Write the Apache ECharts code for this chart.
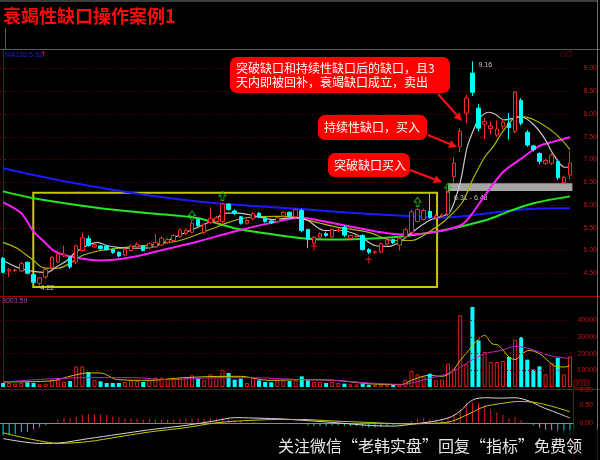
<!DOCTYPE html>
<html>
<head>
<meta charset="utf-8">
<script src="https://cdn.jsdelivr.net/npm/echarts@6/dist/echarts.min.js"></script>
<style>
  html, body { margin: 0; padding: 0; background: #000; }
  #chart { width: 600px; height: 460px; }
</style>
</head>
<body>
<div id="chart"></div>
<script>
// ---- daily prices (open / close / low / high) ----
const openP = [4.83,4.55,4.56,4.55,4.74,4.47,4.28,4.42,4.62,4.75,4.88,4.85,4.75,5.00,5.26,5.08,5.10,5.10,5.02,4.96,
  4.90,5.00,5.08,5.10,5.06,5.08,5.12,5.18,5.22,5.31,5.38,5.40,5.68,5.40,5.62,5.64,5.64,6.02,5.87,5.74,
  5.60,5.70,5.82,5.72,5.65,5.63,5.76,5.84,5.74,5.88,5.46,5.16,5.29,5.37,5.30,5.44,5.51,5.27,5.31,5.33,
  5.02,4.96,4.97,5.14,5.24,5.12,5.30,5.40,5.64,5.68,5.86,5.72,5.76,5.80,6.62,7.28,8.02,8.90,8.13,7.78,
  7.68,7.54,7.73,7.80,7.62,8.30,7.60,7.30,7.13,6.92,6.92,6.96,6.49,6.66];
const closeP = [4.52,4.58,4.57,4.71,4.50,4.30,4.40,4.58,4.85,4.92,4.92,4.64,5.10,5.28,5.11,5.13,5.04,5.02,4.96,4.88,
  5.03,5.10,5.14,5.00,5.15,5.18,5.27,5.24,5.33,5.45,5.44,5.60,5.55,5.58,5.70,5.72,6.02,5.90,5.82,5.60,
  5.66,5.81,5.74,5.64,5.61,5.72,5.84,5.76,5.90,5.44,5.25,5.29,5.37,5.33,5.46,5.45,5.34,5.33,5.32,5.02,
  4.96,4.97,5.15,5.23,5.17,5.26,5.46,5.85,5.90,5.88,5.73,5.76,5.78,6.30,6.92,7.62,8.35,8.48,7.69,7.84,
  7.74,7.67,7.82,7.70,8.48,7.80,7.32,7.22,6.96,6.98,7.10,6.60,6.61,6.92];
const lowP = [4.50,4.42,4.53,4.53,4.48,4.27,4.22,4.38,4.58,4.72,4.85,4.60,4.70,4.97,5.08,5.05,5.02,5.00,4.92,4.85,
  4.87,4.98,5.05,4.98,5.03,5.05,5.10,5.15,5.20,5.28,5.34,5.38,5.52,5.35,5.58,5.60,5.60,5.88,5.78,5.57,
  5.57,5.66,5.71,5.61,5.58,5.60,5.73,5.73,5.72,5.40,5.05,5.12,5.27,5.30,5.28,5.40,5.30,5.25,5.28,5.00,
  4.92,4.92,4.94,5.12,5.14,5.00,5.28,5.38,5.62,5.66,5.70,5.68,5.72,5.76,6.48,7.16,7.80,8.40,7.62,7.45,
  7.55,7.50,7.66,7.44,7.58,7.75,7.28,7.18,6.90,6.88,6.88,6.55,6.46,6.56];
const highP = [4.86,4.62,4.60,4.76,4.76,4.50,4.42,4.60,4.88,4.98,5.11,4.88,5.13,5.40,5.33,5.16,5.12,5.12,5.05,4.98,
  5.05,5.13,5.18,5.12,5.17,5.36,5.32,5.27,5.36,5.48,5.48,5.65,5.70,5.60,5.95,5.76,6.05,6.04,5.90,5.76,
  5.70,5.85,5.84,5.74,5.67,5.74,5.86,5.86,5.92,5.92,5.48,5.32,5.40,5.42,5.49,5.50,5.55,5.35,5.35,5.36,
  5.05,5.00,5.18,5.26,5.26,5.28,5.50,5.90,5.95,5.92,6.28,5.80,5.82,6.31,7.05,7.69,8.42,9.16,8.22,7.92,
  7.84,7.86,7.88,8.02,8.50,8.35,7.65,7.32,7.16,7.02,7.14,7.00,6.65,7.18];

// ---- daily volume ----
const volume = [2400,2400,2000,2400,2800,2400,1600,2000,4400,4400,3000,3600,12400,12400,9000,4000,3400,2400,2400,2400,
  3000,4000,3600,3000,4400,5600,5600,5000,5000,5000,5600,7000,5000,4000,7600,6000,10400,8400,4400,5000,
  2400,5600,4000,3000,2800,4000,4000,3600,4000,6400,4000,3000,3000,2400,3000,2400,2000,1600,1600,2000,
  1400,1400,1600,1600,1400,1600,4400,9600,7600,6400,8000,4000,4400,14000,11000,43000,13600,48000,28000,21000,
  15000,15000,15600,18000,28400,30000,16400,10400,12400,7600,14400,17600,7600,18400];

// ---- MACD histogram ----
const macdHist = [-0.34,-0.31,-0.29,-0.25,-0.23,-0.17,-0.11,-0.06,0.02,0.10,0.14,0.13,0.18,0.23,0.25,0.25,0.24,0.22,0.18,0.16,
  0.14,0.14,0.12,0.10,0.12,0.10,0.10,0.10,0.10,0.12,0.14,0.12,0.14,0.12,0.14,0.13,0.14,0.10,0.08,0.06,
  0.02,0.03,0.01,-0.01,-0.02,-0.01,0.00,-0.01,0.01,-0.03,-0.06,-0.08,-0.08,-0.07,-0.06,-0.06,-0.07,-0.08,-0.08,-0.10,
  -0.12,-0.12,-0.10,-0.08,-0.05,-0.02,0.02,0.05,0.12,0.14,0.12,0.10,0.12,0.14,0.25,0.37,0.56,0.56,0.56,0.49,
  0.38,0.29,0.22,0.14,0.16,0.08,0.02,-0.06,-0.12,-0.18,-0.22,-0.26,-0.30,-0.32];

// ---- moving-average lines, [day index, value] ----
const ma5 = [[0,4.78],[2.3,4.63],[5,4.54],[7.2,4.52],[8.9,4.65],[10.5,4.78],[11.9,4.96],[13.8,5.11],[15.5,5.18],[17,5.11],
  [18.8,5.07],[21.4,5.05],[24.2,5.07],[28.8,5.33],[31.6,5.49],[34.4,5.66],[36.6,5.82],[38.7,5.82],[41,5.77],[44.3,5.68],
  [48.1,5.73],[50,5.66],[52.7,5.44],[55.5,5.44],[58.3,5.33],[61,5.11],[63.3,5.09],[65.4,5.22],[67.5,5.44],[69.9,5.66],
  [71.5,5.73],[73.3,5.84],[75,6.50],[76.1,7.25],[77.3,7.69],[78.3,7.93],[79.7,8.04],[80.7,8.00],[82.2,7.87],[83.9,7.91],
  [85.2,7.93],[87.1,7.76],[88.8,7.47],[90.4,7.09],[92.1,6.83],[93,6.83]];
const ma10 = [[0,5.18],[2.3,5.05],[5,4.78],[6.6,4.62],[9,4.61],[11,4.72],[13,4.89],[16,5.00],[19,5.05],[21.5,5.09],
  [24,5.12],[29,5.22],[34.5,5.49],[37,5.62],[40,5.72],[45,5.75],[48,5.73],[52,5.60],[55,5.51],[60,5.40],
  [64,5.22],[67,5.22],[70,5.42],[72.5,5.66],[75.3,6.05],[77,6.55],[79,7.05],[80.5,7.30],[82,7.62],[84.5,7.95],
  [87,7.88],[90.5,7.58],[93,7.22]];
const ma20 = [[0,6.06],[3,5.82],[5,5.42],[7,5.16],[8.5,4.98],[11,4.87],[16,4.78],[21,4.85],[27,5.04],[32,5.20],
  [38,5.42],[43,5.58],[49,5.72],[53,5.63],[58,5.50],[63,5.38],[66,5.35],[71,5.41],[75,5.55],[76.5,5.73],
  [79,6.20],[82,6.72],[85,7.02],[88,7.30],[90.5,7.40],[93,7.49]];
const ma60 = [[0,6.30],[5,6.15],[16,5.93],[24,5.82],[32,5.71],[38,5.49],[43,5.38],[49,5.27],[53,5.24],[64,5.29],
  [72,5.44],[79,5.66],[83,5.86],[87,6.04],[93,6.19]];
const ma120 = [[0,6.81],[9,6.55],[16,6.38],[24,6.21],[32,6.08],[41,5.98],[49,5.91],[57,5.83],[65,5.77],[72,5.72],
  [76,5.76],[82,5.86],[87,5.92],[93,5.93]];

// ---- volume averages, [day index, value] ----
const volMa5 = [[0,3000],[7.7,3600],[11.6,7000],[13.8,8400],[16,8400],[18.8,4400],[24,4000],[29.7,5600],[36.9,6400],[39,6400],
  [43.5,4000],[49,4400],[54.4,4000],[60,2000],[65.4,1400],[67,4000],[69.8,7000],[72,6400],[73.6,9000],[75,16000],
  [76.4,22000],[77.5,27000],[79,31000],[80.2,26000],[81.3,25000],[83,18000],[84,16400],[85.2,20000],[86.3,22000],[88,20000],
  [89.6,15000],[90.6,12400],[92.3,12000],[93,13000]];
const volMa10 = [[0,3000],[13.2,5600],[21.4,5600],[27,4400],[35,5600],[40.7,5600],[49,4400],[54.4,4000],[60,2400],[65.4,1600],
  [69.8,5000],[73.6,9000],[76.4,15000],[79,20000],[81.9,22000],[84,24400],[86.3,23000],[89.6,19000],[93,17000]];

// ---- MACD DIF / DEA, [day index, value] ----
const dif = [[0,-0.42],[3,-0.50],[6,-0.55],[9,-0.54],[14,-0.42],[19,-0.30],[24,-0.18],[30,-0.06],[35,0.07],[38,0.15],
  [41,0.14],[45,0.12],[49,0.08],[54,0.02],[60,-0.06],[64,-0.08],[67,-0.03],[71,0.06],[73.6,0.18],[75.3,0.37],
  [76.4,0.56],[77.5,0.66],[79,0.69],[82,0.68],[84,0.69],[86.3,0.60],[88.5,0.43],[90.7,0.29],[93,0.14]];
const dea = [[0,-0.26],[3,-0.38],[6,-0.48],[9,-0.55],[14,-0.50],[19,-0.37],[24,-0.24],[30,-0.12],[35,0.01],[41,0.08],
  [46,0.10],[49,0.10],[54,0.06],[60,0.02],[66,-0.02],[71,0.00],[73.6,0.05],[76.4,0.25],[79,0.45],[82,0.54],
  [84.6,0.59],[87.3,0.56],[90,0.46],[93,0.31]];

// ---- signals and annotations ----
const buySignals = [[31,5.77],[36,6.20],[68,6.07],[73,6.38]];
const sellSignals = [[51,5.08],[60,4.79]];
const lowMark = [6, 4.22];
const highMark = [77, 9.16];
const gapLow = 6.31, gapHigh = 6.48, gapFrom = 73, gapTo = 93.4;
const boxStart = [4.96, 4.20], boxEnd = [71.2, 6.27];
const volTicks = [10000, 20000, 30000, 40000];
const titleText = '衰竭性缺口操作案例1';
const maHeader = 'MA120:5.92';
const volHeader = '3003.59';
const calloutTexts = [
  '突破缺口和持续性缺口后的缺口，且3\n天内即被回补，衰竭缺口成立，卖出',
  '持续性缺口，买入',
  '突破缺口买入'
];
const footerText = '关注微信“老韩实盘”回复“指标”免费领';

const days = openP.map((_, i) => String(i + 1));
const N = days.length;

const UP = '#ff2a2a', DOWN = '#00ffff', GRIDRED = '#6e0000', AXISRED = '#c41414';

const candles = openP.map((o, i) => [o, closeP[i], lowP[i], highP[i]]);
const volData = volume.map((v, i) => ({
  value: v,
  itemStyle: closeP[i] >= openP[i]
    ? { color: '#000', borderColor: '#e02020', borderWidth: 1 }
    : { color: DOWN, borderColor: DOWN, borderWidth: 0 }
}));
const macdData = macdHist.map(v => ({ value: v, itemStyle: { color: v >= 0 ? '#d42020' : '#00d8d8' } }));

function catAxis(grid) {
  return { type: 'category', gridIndex: grid, data: days, boundaryGap: true, show: false };
}
function valAxis(grid) {
  return { type: 'value', gridIndex: grid, min: -0.5, max: N - 0.5, show: false };
}
function maLine(data, color, width, xi, yi) {
  return {
    type: 'line', xAxisIndex: xi, yAxisIndex: yi, data: data, smooth: 0.3,
    showSymbol: false, symbol: 'none', silent: true,
    lineStyle: { color: color, width: width }
  };
}

function arrow(x1, y1, x2, y2) {
  const a = Math.atan2(y2 - y1, x2 - x1), len = 8, hw = 4;
  const bx = x2 - len * Math.cos(a), by = y2 - len * Math.sin(a);
  const px = -Math.sin(a) * hw, py = Math.cos(a) * hw;
  return [
    { type: 'line', z: 100, shape: { x1: x1, y1: y1, x2: bx, y2: by }, style: { stroke: '#ff1010', lineWidth: 2 } },
    { type: 'polygon', z: 100, shape: { points: [[x2, y2], [bx + px, by + py], [bx - px, by - py]] }, style: { fill: '#ff1010' } }
  ];
}
function callout(text, x, y, w, h) {
  return [
    { type: 'rect', z: 100, shape: { x: x, y: y, width: w, height: h, r: 7 }, style: { fill: '#ff0000' } },
    { type: 'text', z: 101, style: { text: text, x: x + 6, y: y + h / 2, fill: '#ffffff',
      font: '12px "Noto Sans CJK SC"', textAlign: 'left', textVerticalAlign: 'middle', lineHeight: 14 } }
  ];
}
function hline(y, x1, x2, color) {
  return { type: 'line', z: 1, shape: { x1: x1, y1: y, x2: x2, y2: y }, style: { stroke: color, lineWidth: 1 } };
}

const chart = echarts.init(document.getElementById('chart'), null, { renderer: 'canvas' });

chart.setOption({
  backgroundColor: '#000000',
  animation: false,
  grid: [
    { left: 0, top: 49, width: 573, height: 247 },
    { left: 0, top: 296, width: 573, height: 91 },
    { left: 0, top: 390, width: 573, height: 82 }
  ],
  xAxis: [
    catAxis(0), valAxis(0),
    catAxis(1), valAxis(1),
    { type: 'category', gridIndex: 2, data: days, boundaryGap: true, show: true,
      axisLine: { show: true, onZero: true, lineStyle: { color: '#8a8a8a', width: 1 } },
      axisTick: { show: false }, axisLabel: { show: false }, splitLine: { show: false } },
    valAxis(2)
  ],
  yAxis: [
    { type: 'value', gridIndex: 0, position: 'right', min: 4, max: 9.43, interval: 0.5, scale: false,
      axisLine: { show: true, lineStyle: { color: '#800000' } },
      axisTick: { show: true, length: 3, lineStyle: { color: '#800000' } },
      axisLabel: { show: true, color: AXISRED, fontSize: 7, fontFamily: 'Liberation Sans', align: 'right', margin: 24,
        showMinLabel: false, showMaxLabel: false,
        formatter: v => (v <= 4 ? '' : v.toFixed(2)) },
      splitLine: { show: true, lineStyle: { color: GRIDRED, type: [1, 2], width: 1 } } },
    { type: 'value', gridIndex: 1, position: 'right', min: 0, max: 54600, interval: 10000,
      axisLine: { show: true, lineStyle: { color: '#800000' } },
      axisTick: { show: false },
      axisLabel: { show: true, color: AXISRED, fontSize: 7, fontFamily: 'Liberation Sans', align: 'right', margin: 24,
        formatter: v => (v > 0 && v < 50000 ? String(v) : '') },
      splitLine: { show: false } },
    { type: 'value', gridIndex: 2, position: 'right', min: -1, max: 0.9, interval: 0.5,
      axisLine: { show: true, onZero: false, lineStyle: { color: '#800000' } },
      axisTick: { show: false },
      axisLabel: { show: true, color: AXISRED, fontSize: 7, fontFamily: 'Liberation Sans', align: 'right', margin: 20,
        formatter: v => (v >= 0 ? v.toFixed(2) : '') },
      splitLine: { show: false } }
  ],
  series: [
    {
      type: 'candlestick', xAxisIndex: 0, yAxisIndex: 0, data: candles, barWidth: 4, z: 3,
      itemStyle: { color: '#000000', borderColor: UP, color0: DOWN, borderColor0: DOWN, borderWidth: 1 },
      markPoint: {
        symbol: 'circle', symbolSize: 0, silent: true,
        label: { show: true, color: '#c8c8c8', fontSize: 7, fontFamily: 'Liberation Sans' },
        data: [
          { coord: lowMark, value: lowMark[1], label: { position: 'right', distance: 1, offset: [0, 2], formatter: lowMark[1].toFixed(2) } },
          { coord: highMark, value: highMark[1], label: { position: 'right', distance: 4, offset: [2, 4], formatter: highMark[1].toFixed(2) } }
        ]
      }
    },
    maLine(ma120, '#1a1aff', 2, 1, 0),
    maLine(ma60, '#22e822', 2, 1, 0),
    maLine(ma20, '#ff1cff', 2, 1, 0),
    maLine(ma10, '#b4b400', 1.2, 1, 0),
    Object.assign(maLine(ma5, '#c8c8c8', 1.2, 1, 0), {
      markArea: {
        silent: true,
        data: [
          [ { coord: boxStart, itemStyle: { color: 'rgba(0,0,0,0)', borderColor: '#c8c800', borderWidth: 2 } },
            { coord: boxEnd } ],
          [ { coord: [gapFrom, gapLow], itemStyle: { color: '#a6a6a6', borderWidth: 0 },
              label: { show: true, position: [6, 11], color: '#c8c8c8', fontSize: 7, fontFamily: 'Liberation Sans',
                formatter: gapLow.toFixed(2) + ' - ' + gapHigh.toFixed(2) } },
            { coord: [gapTo, gapHigh] } ]
        ]
      }
    }),
    {
      type: 'scatter', xAxisIndex: 0, yAxisIndex: 0, data: buySignals, silent: true, z: 4,
      symbol: 'path://M5,0 L10,5 L7,5 L7,10 L3,10 L3,5 L0,5 Z', symbolSize: [7, 9],
      itemStyle: { color: 'rgba(0,0,0,0)', borderColor: '#19c819', borderWidth: 1 }
    },
    {
      type: 'scatter', xAxisIndex: 0, yAxisIndex: 0, data: sellSignals, silent: true, z: 4,
      symbol: 'path://M4,0 L6,0 L6,3 L10,3 L10,5 L6,5 L6,10 L4,10 L4,5 L0,5 L0,3 L4,3 Z', symbolSize: [6, 7],
      itemStyle: { color: '#ff2020' }
    },
    {
      type: 'bar', xAxisIndex: 2, yAxisIndex: 1, data: volData, barWidth: 4, z: 3,
      markLine: {
        silent: true, symbol: ['none', 'none'], label: { show: false },
        lineStyle: { color: GRIDRED, type: [1, 2], width: 1 },
        data: volTicks.map(v => ({ yAxis: v }))
      }
    },
    maLine(volMa5, '#c8c800', 1, 3, 1),
    maLine(volMa10, '#c020c0', 1, 3, 1),
    { type: 'bar', xAxisIndex: 4, yAxisIndex: 2, data: macdData, barWidth: 1, z: 3 },
    maLine(dif, '#d6d6d6', 1, 5, 2),
    maLine(dea, '#c8c800', 1, 5, 2)
  ],
  graphic: [
    hline(1, 0, 598, '#7a7a7a'),
    hline(49.5, 0, 600, '#5a5a5a'),
    hline(296.5, 0, 600, '#9a0000'),
    hline(389.5, 0, 600, '#9a0000'),
    { type: 'line', z: 1, shape: { x1: 597.5, y1: 0, x2: 597.5, y2: 460 }, style: { stroke: '#6a6a6a', lineWidth: 1 } },
    { type: 'line', z: 1, shape: { x1: 5.5, y1: 28, x2: 5.5, y2: 49 }, style: { stroke: '#5a5a5a', lineWidth: 1 } },
    { type: 'text', z: 50, style: { text: titleText, x: 3, y: 16, fill: '#ff0a0a',
      font: 'bold 18px "Noto Sans CJK SC"', textAlign: 'left', textVerticalAlign: 'middle' } },
    { type: 'text', z: 50, style: { text: maHeader, x: 5, y: 55, fill: '#1f1fd8',
      font: '7px "Liberation Sans"', textAlign: 'left', textVerticalAlign: 'middle' } },
    { type: 'text', z: 50, style: { text: '↑', x: 40, y: 55, fill: '#e01010',
      font: '8px "DejaVu Sans"', textAlign: 'left', textVerticalAlign: 'middle' } },
    { type: 'text', z: 50, style: { text: '○□', x: 560, y: 54, fill: '#a01010',
      font: '7px "DejaVu Sans"', textAlign: 'left', textVerticalAlign: 'middle' } },
    { type: 'text', z: 50, style: { text: volHeader, x: 2, y: 301, fill: '#b040b0',
      font: '7px "Liberation Sans"', textAlign: 'left', textVerticalAlign: 'middle' } },
    { type: 'rect', z: 50, shape: { x: 574, y: 380, width: 15, height: 8 }, style: { fill: 'none', stroke: '#900000', lineWidth: 1 } },
    { type: 'text', z: 51, style: { text: 'X10', x: 581.5, y: 384.5, fill: AXISRED,
      font: '7px "Liberation Sans"', textAlign: 'center', textVerticalAlign: 'middle' } },
    ...callout(calloutTexts[0], 230, 57, 220, 36),
    ...callout(calloutTexts[1], 318, 115, 109, 25),
    ...callout(calloutTexts[2], 328, 153, 82, 24),
    ...arrow(438, 94, 462, 121),
    ...arrow(428, 135, 457, 147),
    ...arrow(410, 170, 442, 182),
    { type: 'rect', z: 200, shape: { x: 270, y: 430, width: 330, height: 30 }, style: { fill: 'rgba(0,0,0,0.72)' } },
    { type: 'text', z: 201, style: { text: footerText, x: 278, y: 446, fill: '#e6e6e6',
      font: '16px "Noto Sans CJK SC"', textAlign: 'left', textVerticalAlign: 'middle' } }
  ]
});
</script>
</body>
</html>
